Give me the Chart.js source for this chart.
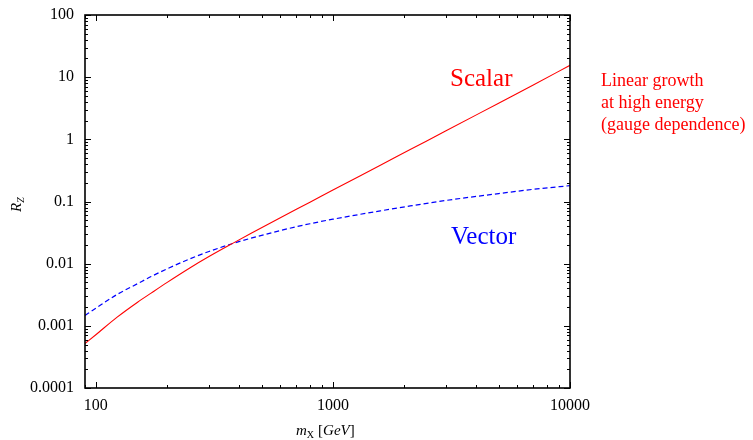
<!DOCTYPE html>
<html>
<head>
<meta charset="utf-8">
<script src="https://cdn.jsdelivr.net/npm/chart.js@4.4.1/dist/chart.umd.min.js"></script>
<style>
  html, body { margin: 0; padding: 0; background: #ffffff; }
  #wrap { width: 753px; height: 440px; position: relative; }
</style>
</head>
<body>
<div id="wrap"><canvas id="c" width="753" height="440"></canvas></div>
<script>
// ---- data ----
const massGeV   = [90, 100, 123, 150, 171, 200, 250, 300, 381, 450, 600, 800, 1000, 1585, 2118, 3000, 5000, 7000, 10000];
const scalarRZ  = [0.00052, 0.00072, 0.00138, 0.0024, 0.00336, 0.0050, 0.0086, 0.0130, 0.0216, 0.0305, 0.0549, 0.0975, 0.153, 0.383, 0.684, 1.37, 3.82, 7.5, 15.5];
const vectorRZ  = [0.00147, 0.00192, 0.0032, 0.00477, 0.0062, 0.00827, 0.0120, 0.0157, 0.0213, 0.0256, 0.0341, 0.0439, 0.0519, 0.0707, 0.0848, 0.104, 0.134, 0.157, 0.180];

const xTickValues = [100, 1000, 10000];
const xTickLabels = ['100', '1000', '10000'];
const yTickValues = [0.0001, 0.001, 0.01, 0.1, 1, 10, 100];
const yTickLabels = ['0.0001', '0.001', '0.01', '0.1', '1', '10', '100'];

const seriesNames = ['Scalar', 'Vector'];
const noteLines = ['Linear growth', 'at high energy', '(gauge dependence)'];

const RED = '#ff0000';
const BLUE = '#0000ff';
const SERIF = '"Liberation Serif", "DejaVu Serif", serif';

function minorTicks(min, max) {
  const out = [];
  for (let d = Math.floor(Math.log10(min)); d <= Math.ceil(Math.log10(max)); d++) {
    for (let k = 1; k <= 9; k++) {
      const v = k * Math.pow(10, d);
      if (v >= min * 0.9999 && v <= max * 1.0001) out.push({ v, major: k === 1 });
    }
  }
  return out;
}

const frameTicks = {
  id: 'frameTicks',
  afterDatasetsDraw(chart) {
    const { ctx, chartArea: a, scales: { x, y } } = chart;
    ctx.save();
    ctx.strokeStyle = '#000';
    ctx.lineWidth = 1;
    ctx.beginPath();
    for (const t of minorTicks(x.min, x.max)) {
      const p = Math.round(x.getPixelForValue(t.v)) + 0.5;
      const L = t.major ? 6 : 3;
      ctx.moveTo(p, a.bottom); ctx.lineTo(p, a.bottom - L);
      ctx.moveTo(p, a.top); ctx.lineTo(p, a.top + L);
    }
    for (const t of minorTicks(y.min, y.max)) {
      const p = Math.round(y.getPixelForValue(t.v)) + 0.5;
      const L = t.major ? 6 : 3;
      ctx.moveTo(a.left, p); ctx.lineTo(a.left + L, p);
      ctx.moveTo(a.right, p); ctx.lineTo(a.right - L, p);
    }
    ctx.stroke();
    ctx.lineWidth = 1.6;
    ctx.strokeRect(a.left, a.top, a.right - a.left, a.bottom - a.top);

    // curve labels
    ctx.textBaseline = 'alphabetic';
    ctx.textAlign = 'left';
    ctx.font = '25px ' + SERIF;
    ctx.fillStyle = RED;
    ctx.fillText(seriesNames[0], 450, 86);
    ctx.fillStyle = BLUE;
    ctx.fillText(seriesNames[1], 451, 244);

    // side note
    ctx.fillStyle = RED;
    ctx.font = '18px ' + SERIF;
    noteLines.forEach((s, i) => ctx.fillText(s, 601, 86 + i * 22));

    // axis titles
    ctx.fillStyle = '#000';
    let xx = 296, yy = 435;
    ctx.font = 'italic 15px ' + SERIF;
    ctx.fillText('m', xx, yy); xx += ctx.measureText('m').width;
    ctx.font = '10px ' + SERIF;
    ctx.fillText('X', xx, yy + 3); xx += ctx.measureText('X').width + 4;
    ctx.font = '15px ' + SERIF;
    ctx.fillText('[', xx, yy); xx += ctx.measureText('[').width;
    ctx.font = 'italic 15px ' + SERIF;
    ctx.fillText('GeV', xx, yy); xx += ctx.measureText('GeV').width;
    ctx.font = '15px ' + SERIF;
    ctx.fillText(']', xx, yy);

    ctx.save();
    ctx.translate(21, 212);
    ctx.rotate(-Math.PI / 2);
    ctx.font = 'italic 15px ' + SERIF;
    ctx.fillText('R', 0, 0);
    const w = ctx.measureText('R').width;
    ctx.font = 'italic 10px ' + SERIF;
    ctx.fillText('Z', w, 3);
    ctx.restore();

    ctx.restore();
  }
};

const toPts = ys => massGeV.map((m, i) => ({ x: m, y: ys[i] }));

new Chart(document.getElementById('c'), {
  type: 'line',
  data: {
    datasets: [
      { label: seriesNames[0], data: toPts(scalarRZ), borderColor: RED, borderWidth: 1.1,
        pointRadius: 0, fill: false, cubicInterpolationMode: 'monotone' },
      { label: seriesNames[1], data: toPts(vectorRZ), borderColor: BLUE, borderWidth: 1.2,
        borderDash: [5, 3], pointRadius: 0, fill: false, cubicInterpolationMode: 'monotone' }
    ]
  },
  options: {
    responsive: false,
    animation: false,
    devicePixelRatio: 1,
    layout: { padding: { top: 15, right: 183, left: 0, bottom: 0 } },
    plugins: { legend: { display: false }, tooltip: { enabled: false }, title: { display: false } },
    scales: {
      x: {
        type: 'logarithmic', min: 90, max: 10000,
        grid: { display: false, drawTicks: false },
        border: { display: false },
        afterBuildTicks: s => { s.ticks = xTickValues.map(v => ({ value: v })); },
        afterFit: s => { s.height = 52; s.paddingLeft = 0; s.paddingRight = 0; },
        ticks: { autoSkip: false, maxRotation: 0, padding: 8, color: '#000',
          font: { family: SERIF, size: 16 },
          callback: (v, i) => xTickLabels[i] }
      },
      y: {
        type: 'logarithmic', min: 0.0001, max: 100,
        grid: { display: false, drawTicks: false },
        border: { display: false },
        afterBuildTicks: s => { s.ticks = yTickValues.map(v => ({ value: v })); },
        afterFit: s => { s.width = 85; s.paddingTop = 0; s.paddingBottom = 0; },
        ticks: { autoSkip: false, padding: 11, color: '#000',
          font: { family: SERIF, size: 16 },
          callback: (v, i) => yTickLabels[i] }
      }
    }
  },
  plugins: [frameTicks]
});
</script>
</body>
</html>
